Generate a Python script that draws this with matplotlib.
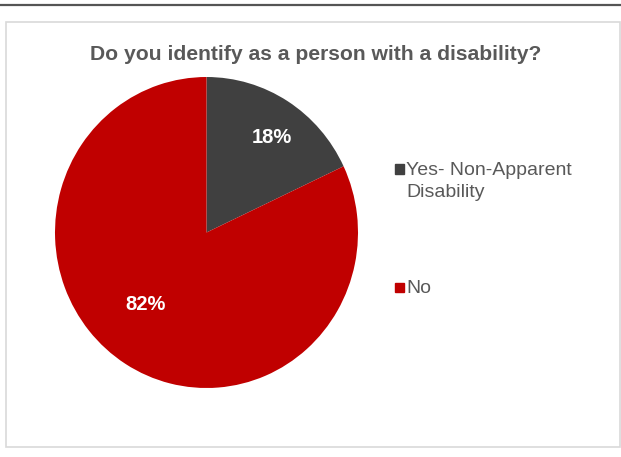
import matplotlib.pyplot as plt
from matplotlib.patches import Rectangle
from matplotlib.lines import Line2D

plt.rcParams['font.family'] = ['Liberation Sans', 'DejaVu Sans']

# data
labels = ['Yes- Non-Apparent\nDisability', 'No']
values = [18, 82]
colors = ['#404040', '#C00000']
title = 'Do you identify as a person with a disability?'

W, H = 621, 457
fig = plt.figure(figsize=(W / 100, H / 100), dpi=100)

# top rule and chart frame
fig.add_artist(Line2D([0, 1], [1 - 4.5 / H, 1 - 4.5 / H], color='#555555', lw=1.6))
fig.add_artist(Rectangle((5.5 / W, 1 - 447 / H), 614 / W, 425 / H, fill=False,
                         edgecolor='#D9D9D9', lw=1.2))

fig.text(316 / W, 1 - 55 / H, title, ha='center', va='center', fontsize=15.2,
         fontweight='bold', color='#595959')

# pie axes (slightly taller than wide, like the source)
ax = fig.add_axes([55 / W, 1 - 388 / H, 303 / W, 311 / H])
wedges, texts, autotexts = ax.pie(values, colors=colors, startangle=90, counterclock=False,
                                  autopct='%1.0f%%', pctdistance=0.75,
                                  textprops=dict(color='white', fontsize=14.5, fontweight='bold'))
autotexts[0].set_position((0.43, 0.61))
autotexts[1].set_position((-0.40, -0.46))
ax.set_xlim(-1, 1)
ax.set_ylim(-1, 1)
ax.set_aspect('auto')

# legend drawn by hand so the marker sits on the first text line
leg_y = [169, 287]
for lab, c, y in zip(labels, colors, leg_y):
    fig.add_artist(Rectangle((394.5 / W, 1 - (y + 4.5) / H), 9 / W, 9 / H,
                             facecolor=c, edgecolor=c))
    fig.text(406 / W, 1 - (y - 7) / H, lab, ha='left', va='top', fontsize=14,
             color='#595959', linespacing=1.4)

fig.savefig('out.png', dpi=100)
